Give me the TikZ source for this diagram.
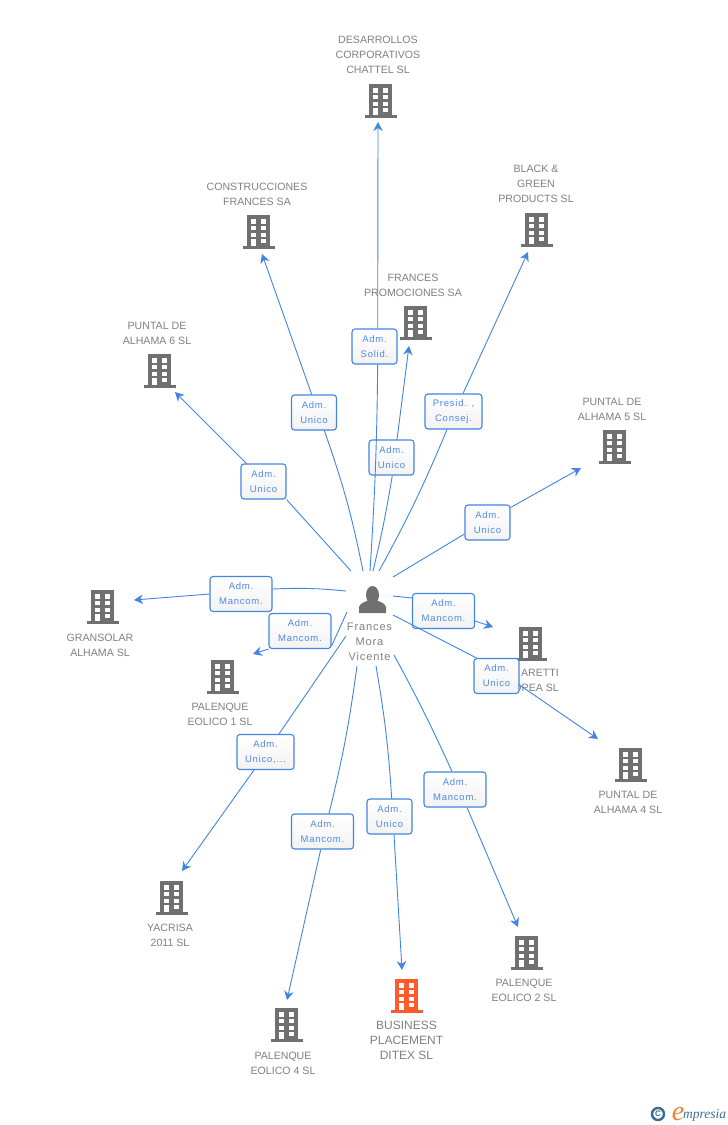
\documentclass[tikz,border=0pt]{standalone}
\usepackage{fontspec}
\usepackage{xcolor}
\usetikzlibrary{
    arrows.meta,
    positioning
}
\setmainfont{Liberation Sans}
\newfontfamily\spacedfont[LetterSpace=8]{Liberation Sans}
\newfontfamily\logofont{Liberation Serif}
\definecolor{linkblue}{RGB}{66, 133, 226}
\definecolor{labelblue}{RGB}{78, 138, 228}
\definecolor{bldggray}{RGB}{112, 112, 112}
\definecolor{textgray}{RGB}{128, 128, 128}
\definecolor{targetorange}{RGB}{255, 90, 44}
\definecolor{logoblue}{RGB}{58, 110, 145}
\definecolor{logoorange}{RGB}{240, 130, 50}

\tikzset{
    building/.pic={
        \fill[pic actions] (-11.5,-17) rectangle (11.5,14.5);
        \fill[pic actions] (-16,14) rectangle (16,17);
        \fill[white] (-8,-13) rectangle (-3,-8.5);
        \fill[white] (2.5,-13) rectangle (7.5,-8.5);
        \fill[white] (-8,-6) rectangle (-3,-1.7);
        \fill[white] (2.5,-6) rectangle (7.5,-1.7);
        \fill[white] (-8,0.7) rectangle (-3,5);
        \fill[white] (2.5,0.7) rectangle (7.5,5);
        \fill[white] (-8,6.5) rectangle (-3,14);
        \fill[white] (2.5,6.5) rectangle (7.5,11);
    }
}

\begin{document}
\begin{tikzpicture}[
        x=1pt, y=-1pt,
        company/.style={align=center, text=textgray, inner sep=0pt, font=\fontsize{10.6}{15}\selectfont},
        role/.style={rectangle, draw=linkblue, line width=1.1pt, rounded corners=3pt, top color=white, bottom color=black!5,
            minimum height=35pt, inner sep=0pt, align=center, text=labelblue, font=\spacedfont\fontsize{9.5}{15}\selectfont},
        link/.style={linkblue, line width=0.9pt},
        arrow/.style={link, -{Stealth[length=9pt, width=9.5pt]}}
    ]
    \fill[white] (0,0) rectangle (728,1125);
    \useasboundingbox (0,0) rectangle (728,1125);

    % buildings
    \pic[fill=bldggray] (b_chattel) at (380.5,101) {building};
    \pic[fill=bldggray] (b_construcciones) at (258.5,232) {building};
    \pic[fill=bldggray] (b_promociones) at (415.5,323) {building};
    \pic[fill=bldggray] (b_black) at (536.5,230) {building};
    \pic[fill=bldggray] (b_puntal6) at (159.5,371) {building};
    \pic[fill=bldggray] (b_puntal5) at (614.5,447) {building};
    \pic[fill=bldggray] (b_gransolar) at (102.5,607) {building};
    \pic[fill=bldggray] (b_palenque1) at (222.5,677) {building};
    \pic[fill=bldggray] (b_aretti) at (530.5,644) {building};
    \pic[fill=bldggray] (b_puntal4) at (630.5,765) {building};
    \pic[fill=bldggray] (b_yacrisa) at (171.5,898) {building};
    \pic[fill=bldggray] (b_palenque4) at (286.5,1025) {building};
    \pic[fill=targetorange] (b_business) at (406.5,996) {building};
    \pic[fill=bldggray] (b_palenque2) at (526.5,953) {building};

    % company names
    \node[company] (chattel) at (378,55) {DESARROLLOS\\CORPORATIVOS\\CHATTEL SL};
    \node[company] (construcciones) at (257,194) {CONSTRUCCIONES\\FRANCES SA};
    \node[company] (promociones) at (413,285) {FRANCES\\PROMOCIONES SA};
    \node[company] (black) at (536,184) {BLACK \&\\GREEN\\PRODUCTS SL};
    \node[company] (puntal6) at (157,333) {PUNTAL DE\\ALHAMA 6 SL};
    \node[company] (puntal5) at (612,409) {PUNTAL DE\\ALHAMA 5 SL};
    \node[company] (gransolar) at (100,645) {GRANSOLAR\\ALHAMA SL};
    \node[company] (palenque1) at (220,714) {PALENQUE\\EOLICO 1 SL};
    \node[company, align=right, anchor=east] (aretti) at (559,680) {ARETTI\hspace{7pt}\\OPEA SL};
    \node[company] (puntal4) at (628,802) {PUNTAL DE\\ALHAMA 4 SL};
    \node[company] (yacrisa) at (170,935) {YACRISA\\2011 SL};
    \node[company] (palenque4) at (283,1063) {PALENQUE\\EOLICO 4 SL};
    \node[company, font=\fontsize{12}{15}\selectfont] (business) at (406.5,1040) {BUSINESS\\PLACEMENT\\DITEX SL};
    \node[company] (palenque2) at (524,990) {PALENQUE\\EOLICO 2 SL};

    % person
    \fill[bldggray] (372.5,595) ellipse (6.5 and 9);
    \fill[bldggray] (359,613) -- (359,607) .. controls (360,603) and (365,602) .. (369,600)
        -- (376,600) .. controls (380,602) and (385,603) .. (386,607) -- (386,613) -- cycle;
    \node[company, font=\spacedfont\fontsize{11}{15}\selectfont] (frances) at (369.5,642) {Frances\\Mora\\Vicente};

    % link ends
    \coordinate (s_chattel) at (370,571);
    \coordinate (e_chattel) at (378,122);
    \coordinate (s_construcciones) at (363,571);
    \coordinate (e_construcciones) at (262,254);
    \coordinate (s_promociones) at (373,571);
    \coordinate (e_promociones) at (409,346);
    \coordinate (s_black) at (379,571);
    \coordinate (e_black) at (528,252);
    \coordinate (s_puntal6) at (351,571);
    \coordinate (e_puntal6) at (175,392);
    \coordinate (s_puntal5) at (393,577);
    \coordinate (e_puntal5) at (581,468);
    \coordinate (s_gransolar) at (346,591);
    \coordinate (e_gransolar) at (134,600);
    \coordinate (s_palenque1) at (347,612);
    \coordinate (e_palenque1) at (253,654);
    \coordinate (s_yacrisa) at (346,636);
    \coordinate (e_yacrisa) at (182,871);
    \coordinate (s_palenque4) at (357,666);
    \coordinate (e_palenque4) at (287,1000);
    \coordinate (s_business) at (376,666);
    \coordinate (e_business) at (402,970);
    \coordinate (s_palenque2) at (394,655);
    \coordinate (e_palenque2) at (518,927);
    \coordinate (s_aretti) at (393,596);
    \coordinate (e_aretti) at (493,627);
    \coordinate (s_puntal4) at (393,615);
    \coordinate (e_puntal4) at (598,739);

    % roles
    \node[role, minimum width=45pt] (r_chattel) at (374.5,346.5) {Adm.\\Solid.};
    \node[role, minimum width=45pt] (r_construcciones) at (314,412.5) {Adm.\\Unico};
    \node[role, minimum width=45pt] (r_promociones) at (391.5,457.5) {Adm.\\Unico};
    \node[role, minimum width=57pt] (r_black) at (453.5,411.5) {Presid. ,\\Consej.};
    \node[role, minimum width=45pt] (r_puntal6) at (263.5,481.5) {Adm.\\Unico};
    \node[role, minimum width=45pt] (r_puntal5) at (487.5,522.5) {Adm.\\Unico};
    \node[role, minimum width=62pt] (r_gransolar) at (241,594) {Adm.\\Mancom.};
    \node[role, minimum width=62pt] (r_palenque1) at (300,631) {Adm.\\Mancom.};
    \node[role, minimum width=57pt] (r_yacrisa) at (265.5,752) {Adm.\\Unico,...};
    \node[role, minimum width=62pt] (r_palenque4) at (322.5,831.5) {Adm.\\Mancom.};
    \node[role, minimum width=45pt] (r_business) at (389.5,816.5) {Adm.\\Unico};
    \node[role, minimum width=62pt] (r_palenque2) at (455,789.5) {Adm.\\Mancom.};
    \node[role, minimum width=62pt] (r_aretti) at (443.5,611) {Adm.\\Mancom.};
    \node[role, minimum width=45pt] (r_puntal4) at (496.5,676) {Adm.\\Unico};

    % links
    \draw[link] (s_construcciones) to[bend right=4] ([xshift=10.3pt]r_construcciones.south);
    \draw[arrow] ([xshift=-2.3pt]r_construcciones.north) -- (e_construcciones);
    \draw[link] (s_promociones) to[bend right=2] ([xshift=0.8pt]r_promociones.south);
    \draw[arrow] ([xshift=5.5pt]r_promociones.north) -- (e_promociones);
    \draw[link] (s_black) to[bend right=3] ([xshift=-6.5pt]r_black.south);
    \draw[arrow] ([xshift=9.5pt]r_black.north) -- (e_black);
    \draw[link] (s_puntal6) -- (r_puntal6.south east);
    \draw[arrow] ([xshift=-17pt]r_puntal6.north) -- (e_puntal6);
    \draw[link] (s_puntal5) -- ([yshift=-11.5pt]r_puntal5.west);
    \draw[arrow] ([yshift=15pt]r_puntal5.east) -- (e_puntal5);
    \draw[link] (s_gransolar) to[bend right=4] ([yshift=5pt]r_gransolar.east);
    \draw[arrow] (r_gransolar.west) -- (e_gransolar);
    \draw[link] (s_palenque1) -- ([yshift=-15pt]r_palenque1.east);
    \draw[arrow] (r_palenque1.south west) -- (e_palenque1);
    \draw[link] (s_yacrisa) -- ([xshift=13.5pt]r_yacrisa.north);
    \draw[arrow] ([xshift=-11.5pt]r_yacrisa.south) -- (e_yacrisa);
    \draw[link] (s_palenque4) to[bend left=3] ([xshift=6.5pt]r_palenque4.north);
    \draw[arrow] ([xshift=-1.8pt]r_palenque4.south) -- (e_palenque4);
    \draw[link] (s_business) to[bend left=3] ([xshift=2.2pt]r_business.north);
    \draw[arrow] ([xshift=4.5pt]r_business.south) -- (e_business);
    \draw[link] (s_palenque2) to[bend left=2] ([xshift=-3pt]r_palenque2.north);
    \draw[arrow] ([xshift=12pt]r_palenque2.south) -- (e_palenque2);
    \draw[link] (s_aretti) -- ([yshift=13pt]r_aretti.west);
    \draw[arrow] ([yshift=-10pt]r_aretti.east) -- (e_aretti);
    \draw[link] (s_puntal4) -- ([xshift=-20pt]r_puntal4.north);
    \draw[arrow] ([yshift=-9pt]r_puntal4.east) -- (e_puntal4);
    % this one runs over the other role box
    \draw[link] (s_chattel) to[bend right=1.5] ([xshift=3.2pt]r_chattel.south);
    \draw[arrow] ([xshift=3.2pt]r_chattel.north) -- (e_chattel);

    % logo
    \node[circle, draw=logoblue, line width=2.4pt, minimum size=12pt, inner sep=0pt, text=logoblue, font=\bfseries\fontsize{8}{8}\selectfont] (logo_c) at (658,1114) {C};
    \node[text=logoorange, inner sep=0pt, anchor=base, font=\logofont\itshape\fontsize{28}{28}\selectfont] (logo_e) at (678,1120) {e};
    \node[text=logoblue, inner sep=0pt, anchor=base west, font=\logofont\itshape\fontsize{13.5}{13.5}\selectfont] (logo_text) at (683,1118) {mpresia};
\end{tikzpicture}
\end{document}
